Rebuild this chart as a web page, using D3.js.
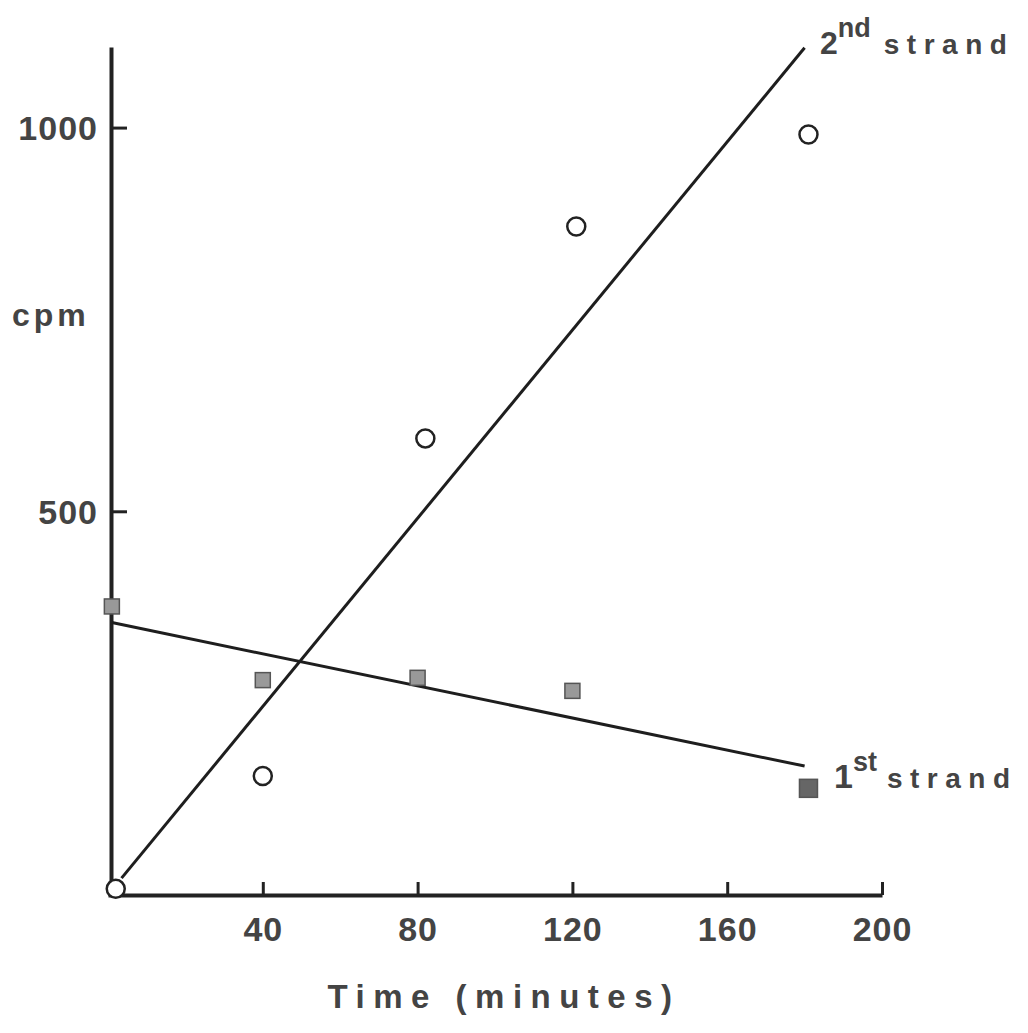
<!DOCTYPE html>
<html>
<head>
<script src="https://d3js.org/d3.v7.min.js"></script>
<style>
  body { margin: 0; background: #fff; }
  text { font-family: "Liberation Sans", Arial, sans-serif; font-weight: bold; fill: #444; }
</style>
</head>
<body>
<svg width="1028" height="1033"></svg>
<script>
// data
const xTicks = [40, 80, 120, 160, 200];
const yTicks = [500, 1000];

const secondTime = [2, 40, 82, 121, 181];
const secondCpm = [8, 155, 595, 871, 991];

const firstTime = [1, 40, 80, 120, 181];
const firstCpm = [376, 280, 283, 266, 139];

// fitted lines, drawn by hand on the original
const secondFit = [[3.5, 22], [180, 1104]];
const firstFit = [[1, 355], [180, 168]];

const svg = d3.select('svg');

const x = d3.scaleLinear().domain([0, 200]).range([108, 882]);
const y = d3.scaleLinear().domain([0, 1105]).range([895, 47]);

// axes
const xAxis = d3.axisBottom(x)
    .tickValues(xTicks)
    .tickSizeInner(-13)
    .tickSizeOuter(0)
    .tickPadding(22);

const yAxis = d3.axisLeft(y)
    .tickValues(yTicks)
    .tickFormat(d3.format('d'))
    .tickSizeInner(-16)
    .tickSizeOuter(0)
    .tickPadding(13);

const gx = svg.append('g')
    .attr('transform', `translate(0,${y(0)})`)
    .call(xAxis);

const gy = svg.append('g')
    .attr('transform', `translate(${x(0) + 3},0)`)
    .call(yAxis);

[gx, gy].forEach(g => {
    g.select('.domain').attr('stroke', '#222').attr('stroke-width', 4);
    g.selectAll('.tick line').attr('stroke', '#222').attr('stroke-width', 3);
    g.selectAll('.tick text')
        .attr('fill', '#444')
        .style('font-family', '"Liberation Sans", Arial, sans-serif')
        .style('font-weight', 'bold')
        .style('font-size', '34px')
        .style('letter-spacing', '1px');
});
gy.selectAll('.tick text').attr('dy', '0.36em');

// fitted lines
const line = d3.line().x(d => x(d[0])).y(d => y(d[1]));

svg.append('path')
    .datum(secondFit)
    .attr('d', line)
    .attr('fill', 'none')
    .attr('stroke', '#1e1e1e')
    .attr('stroke-width', 3);

svg.append('path')
    .datum(firstFit)
    .attr('d', line)
    .attr('fill', 'none')
    .attr('stroke', '#1e1e1e')
    .attr('stroke-width', 3);

// 2nd strand: open circles
svg.selectAll('circle.second')
    .data(secondTime.map((t, i) => ({ t, v: secondCpm[i] })))
    .enter().append('circle')
    .attr('class', 'second')
    .attr('cx', d => x(d.t))
    .attr('cy', d => y(d.v))
    .attr('r', 9)
    .attr('fill', 'white')
    .attr('stroke', '#222')
    .attr('stroke-width', 2.5);

// 1st strand: filled squares
svg.selectAll('rect.first')
    .data(firstTime.map((t, i) => ({ t, v: firstCpm[i], last: i === firstTime.length - 1 })))
    .enter().append('rect')
    .attr('class', 'first')
    .attr('x', d => x(d.t) - (d.last ? 9 : 7.5))
    .attr('y', d => y(d.v) - (d.last ? 9 : 7.5))
    .attr('width', d => d.last ? 18 : 15)
    .attr('height', d => d.last ? 18 : 15)
    .attr('fill', d => d.last ? '#666' : '#999')
    .attr('stroke', '#555')
    .attr('stroke-width', 1.5);

// labels
svg.append('text')
    .attr('x', 12)
    .attr('y', 326)
    .style('font-size', '32px')
    .style('letter-spacing', '4px')
    .text('cpm');

svg.append('text')
    .attr('x', 504)
    .attr('y', 1008)
    .attr('text-anchor', 'middle')
    .style('font-size', '33px')
    .style('letter-spacing', '8.5px')
    .text('Time (minutes)');

const second = svg.append('text')
    .attr('x', 820)
    .attr('y', 54);
second.append('tspan').style('font-size', '32px').text('2');
second.append('tspan').attr('dy', -17).style('font-size', '27px').text('nd');
second.append('tspan').attr('dy', 17).attr('dx', 13)
    .style('font-size', '28px').style('letter-spacing', '7.5px').text('strand');

const first = svg.append('text')
    .attr('x', 834)
    .attr('y', 788);
first.append('tspan').style('font-size', '34px').text('1');
first.append('tspan').attr('dy', -17).style('font-size', '27px').text('st');
first.append('tspan').attr('dy', 17).attr('dx', 10)
    .style('font-size', '28px').style('letter-spacing', '7.5px').text('strand');
</script>
</body>
</html>
